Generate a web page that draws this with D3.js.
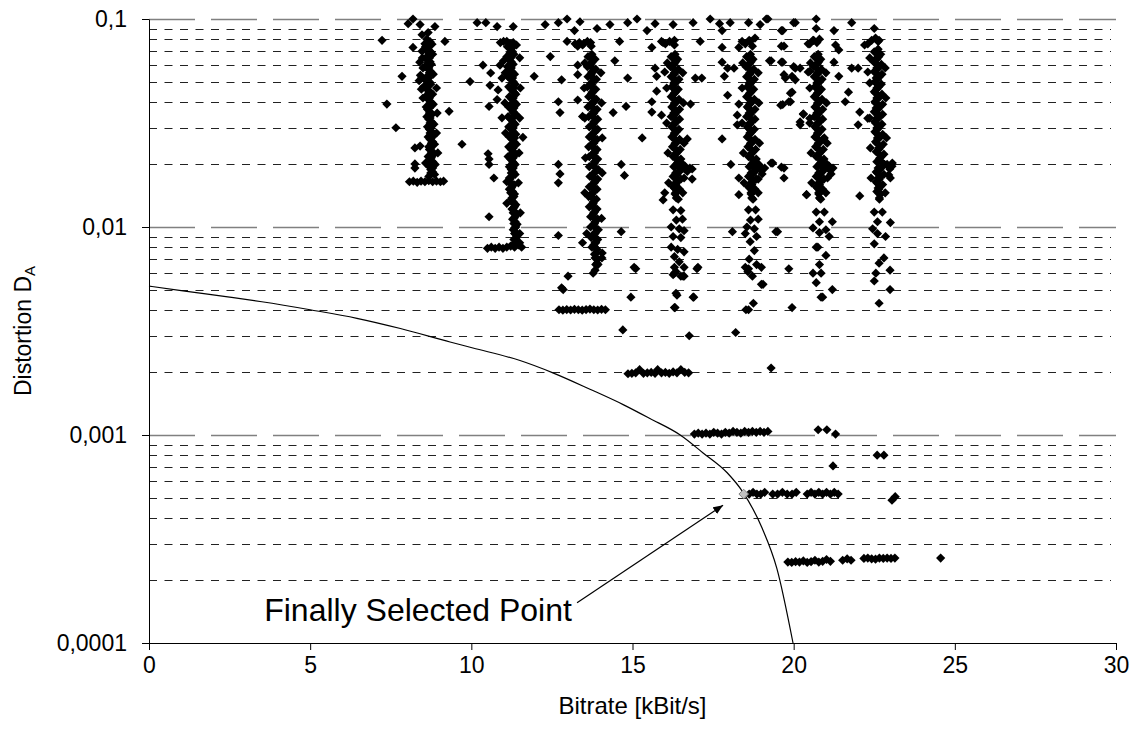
<!DOCTYPE html>
<html>
<head>
<meta charset="utf-8">
<script src="https://cdn.jsdelivr.net/npm/d3@7"></script>
<style>
  body { margin: 0; background: #fff; }
  text { font-family: "Liberation Sans", Arial, sans-serif; fill: #000; }
</style>
</head>
<body>
<div id="chart"></div>
<script>
const width = 1138, height = 740;

// axis ticks / grid
const xTicks = [0, 5, 10, 15, 20, 25, 30];
const yMajor = [0.1, 0.01, 0.001, 0.0001];
const yLabels = ["0,1", "0,01", "0,001", "0,0001"];
const yMinor = [0.09, 0.08, 0.07, 0.06, 0.05, 0.04, 0.03, 0.02,
  0.009, 0.008, 0.007, 0.006, 0.005, 0.004, 0.003, 0.002,
  0.0009, 0.0008, 0.0007, 0.0006, 0.0005, 0.0004, 0.0003, 0.0002];

// lower convex hull (bitrate, distortion)
const hullCurve = [[0, 0.0052], [1, 0.00494], [2.5, 0.0046], [3.5, 0.00437], [5, 0.0040], [6.45, 0.00364],
  [7.8, 0.00325], [9.34, 0.0028], [10.05, 0.00262], [11.51, 0.00228], [12.53, 0.00199], [13.68, 0.00166],
  [14.71, 0.0014], [15.54, 0.0012], [16.48, 0.001], [17.19, 0.00082], [17.93, 0.00066], [18.43, 0.00053],
  [19.02, 0.000357], [19.48, 0.000228], [19.98, 0.0001]];

const selectedPoint = [18.45, 0.00052];

// dense columns of operating points
const pts8k = [[8.62,0.080],[8.78,0.0757],[8.66,0.0716],[8.80,0.0677],[8.60,0.0641],[8.76,0.0606],[8.66,0.0574],[8.82,0.0543],
  [8.56,0.0513],[8.74,0.0486],[8.62,0.0459],[8.80,0.0435],[8.66,0.0411],[8.82,0.0389],[8.64,0.0368],[8.78,0.0348],[8.68,0.0330],
  [8.84,0.0312],[8.70,0.0295],[8.86,0.0279],[8.72,0.0264],[8.86,0.0250],[8.70,0.0236],[8.84,0.0224],[8.72,0.0212],[8.88,0.0200],
  [8.74,0.0189],[8.86,0.0179],
  [8.72,0.0778],[8.58,0.0736],[8.74,0.0696],[8.62,0.0659],[8.72,0.0623],[8.56,0.0590],[8.74,0.0558],[8.62,0.0528],[8.70,0.0499],
  [8.52,0.0472],[8.72,0.0447],[8.58,0.0423],[8.74,0.0400],[8.60,0.0378],[8.72,0.0358],[8.62,0.0339],[8.76,0.0321],[8.64,0.0303],
  [8.78,0.0287],[8.66,0.0271],[8.80,0.0257],[8.68,0.0243],[8.80,0.0230],[8.66,0.0218],[8.80,0.0206],[8.70,0.0195],[8.80,0.0184],
  [8.68,0.0175],
  [8.70,0.0767],[8.64,0.0726],[8.68,0.0687],[8.70,0.0650],[8.66,0.0615],[8.68,0.0582],[8.70,0.0551],[8.68,0.0521],[8.64,0.0493],
  [8.62,0.0466],[8.68,0.0441],[8.70,0.0417],[8.72,0.0395],[8.70,0.0373],[8.70,0.0353],[8.72,0.0334],[8.72,0.0316],[8.74,0.0299],
  [8.72,0.0283],[8.76,0.0268],[8.76,0.0253],[8.74,0.0240],[8.76,0.0227],[8.76,0.0215],[8.76,0.0203],[8.80,0.0192],[8.74,0.0182],
  [8.48,0.0650],[8.50,0.0582],[8.46,0.0521],[8.92,0.0466],[8.50,0.0417],[8.94,0.0353],[8.92,0.0283],[8.96,0.0227],[8.58,0.0203]];

const pts11k = [[11.22,0.0716],[11.32,0.0677],[11.18,0.0641],[11.30,0.0606],[11.20,0.0574],[11.34,0.0543],[11.22,0.0513],
  [11.36,0.0486],[11.24,0.0459],[11.38,0.0435],[11.26,0.0411],[11.40,0.0389],[11.24,0.0368],[11.38,0.0348],[11.22,0.0330],
  [11.36,0.0312],[11.24,0.0295],[11.38,0.0279],[11.26,0.0264],[11.40,0.0250],[11.24,0.0236],[11.38,0.0224],[11.22,0.0212],
  [11.36,0.0200],[11.24,0.0189],[11.36,0.0179],[11.20,0.0170],[11.32,0.0160],[11.18,0.0152],[11.34,0.0144],[11.24,0.0136],
  [11.38,0.0128],[11.26,0.0122],[11.40,0.0115],[11.28,0.0109],[11.42,0.0103],[11.30,0.0097],[11.44,0.0092],[11.32,0.0087],
  [11.12,0.0736],[11.28,0.0696],[11.10,0.0659],[11.24,0.0623],[11.12,0.0590],[11.26,0.0558],[11.14,0.0528],[11.30,0.0499],
  [11.16,0.0472],[11.30,0.0447],[11.18,0.0423],[11.32,0.0400],[11.16,0.0378],[11.30,0.0358],[11.14,0.0339],[11.28,0.0321],
  [11.16,0.0303],[11.30,0.0287],[11.18,0.0271],[11.32,0.0257],[11.16,0.0243],[11.30,0.0230],[11.14,0.0218],[11.28,0.0206],
  [11.18,0.0195],[11.30,0.0184],[11.26,0.0175],[11.10,0.0165],[11.26,0.0156],[11.28,0.0148],[11.32,0.0140],[11.30,0.0132],
  [11.34,0.0125],[11.36,0.0118],[11.36,0.0112],[11.36,0.0106],[11.38,0.0100],[11.38,0.0094],[11.40,0.0089],
  [10.90,0.077],[11.00,0.078],[11.10,0.078],[11.20,0.076],[11.30,0.077],[11.40,0.075],
  [11.26,0.0726],[11.20,0.0687],[11.22,0.0650],[11.24,0.0615],[11.24,0.0582],[11.26,0.0551],[11.28,0.0521],[11.30,0.0493],
  [11.32,0.0466],[11.34,0.0441],[11.30,0.0417],[11.28,0.0395],[11.32,0.0373],[11.30,0.0353],[11.28,0.0334],[11.30,0.0316],
  [11.30,0.0299],[11.30,0.0283],[11.34,0.0268],[11.28,0.0253],[11.30,0.0240],[11.28,0.0227],[11.30,0.0215],[11.30,0.0203],
  [11.30,0.0192],[11.24,0.0182],[11.18,0.0172],[11.20,0.0163],[11.24,0.0154],[11.22,0.0146],[11.26,0.0138],[11.30,0.0130],
  [11.30,0.0123],[11.30,0.0117],[11.32,0.0110],[11.32,0.0104],[11.34,0.0099],[11.34,0.0093],[11.36,0.0088],[11.36,0.0084],
  [11.50,0.0651],[11.05,0.0551],[11.52,0.0466],[11.04,0.0395],[11.50,0.0334],[11.06,0.0283],[11.48,0.0227],[11.46,0.0163],
  [11.10,0.0130],[11.52,0.0117],[11.50,0.0093]];

const pts14k = [[13.74,0.0677],[13.84,0.0641],[13.70,0.0606],[13.86,0.0574],[13.72,0.0543],[13.88,0.0513],[13.74,0.0486],
  [13.86,0.0459],[13.72,0.0435],[13.88,0.0411],[13.74,0.0389],[13.90,0.0368],[13.76,0.0348],[13.92,0.0330],[13.78,0.0312],
  [13.92,0.0295],[13.76,0.0279],[13.90,0.0264],[13.74,0.0250],[13.90,0.0236],[13.76,0.0224],[13.92,0.0212],[13.78,0.0200],
  [13.94,0.0189],[13.78,0.0179],[13.92,0.0170],[13.76,0.0160],[13.90,0.0152],[13.74,0.0144],[13.88,0.0136],[13.76,0.0128],
  [13.90,0.0122],[13.78,0.0115],[13.92,0.0109],[13.80,0.0103],[13.94,0.0097],[13.80,0.0092],[13.92,0.0087],[13.80,0.0082],
  [13.90,0.0078],[13.82,0.0074],[13.92,0.0070],[13.86,0.0066],[13.84,0.0062],
  [13.62,0.0659],[13.76,0.0623],[13.60,0.0590],[13.74,0.0558],[13.62,0.0528],[13.76,0.0499],[13.60,0.0472],[13.76,0.0447],
  [13.64,0.0423],[13.78,0.0400],[13.62,0.0378],[13.78,0.0358],[13.64,0.0339],[13.80,0.0321],[13.66,0.0303],[13.82,0.0287],
  [13.66,0.0271],[13.80,0.0257],[13.64,0.0243],[13.82,0.0230],[13.66,0.0218],[13.82,0.0206],[13.66,0.0195],[13.84,0.0184],
  [13.68,0.0175],[13.82,0.0165],[13.66,0.0156],[13.80,0.0148],[13.64,0.0140],[13.78,0.0132],[13.66,0.0125],[13.82,0.0118],
  [13.70,0.0112],[13.84,0.0106],[13.70,0.0100],[13.84,0.0094],[13.72,0.0089],[13.86,0.0084],[13.74,0.0080],
  [13.22,0.076],[13.35,0.077],[13.48,0.076],[13.60,0.078],[13.72,0.074],
  [13.70,0.0650],[13.72,0.0615],[13.76,0.0582],[13.74,0.0551],[13.78,0.0521],[13.72,0.0493],[13.76,0.0466],[13.74,0.0441],
  [13.80,0.0417],[13.76,0.0395],[13.78,0.0373],[13.80,0.0353],[13.82,0.0334],[13.80,0.0316],[13.82,0.0299],[13.80,0.0283],
  [13.78,0.0268],[13.80,0.0253],[13.80,0.0240],[13.82,0.0227],[13.84,0.0215],[13.82,0.0203],[13.86,0.0192],[13.80,0.0182],
  [13.78,0.0172],[13.82,0.0163],[13.78,0.0154],[13.76,0.0146],[13.76,0.0138],[13.78,0.0130],[13.82,0.0123],[13.80,0.0117],
  [13.84,0.0110],[13.82,0.0104],[13.86,0.0099],[13.84,0.0093],[13.86,0.0088],[13.84,0.0084],[13.86,0.0079],[13.88,0.0075],
  [13.84,0.0071],[13.90,0.0067],
  [13.52,0.0615],[14.02,0.0551],[13.50,0.0466],[14.04,0.0395],[13.52,0.0334],[14.06,0.0268],[13.54,0.0215],[14.06,0.0182],
  [13.52,0.0146],[14.04,0.0110],[13.58,0.0093],[14.06,0.0075]];

const pts16k = [[16.32,0.0677],[16.40,0.0641],[16.28,0.0606],[16.42,0.0574],[16.30,0.0543],[16.44,0.0513],[16.30,0.0486],
  [16.42,0.0459],[16.28,0.0435],[16.44,0.0411],[16.30,0.0389],[16.46,0.0368],[16.32,0.0348],[16.46,0.0330],[16.30,0.0312],
  [16.44,0.0295],[16.30,0.0279],[16.46,0.0264],[16.32,0.0250],[16.48,0.0236],[16.34,0.0224],[16.50,0.0212],[16.36,0.0200],
  [16.52,0.0189],[16.38,0.0179],[16.50,0.0170],[16.34,0.0160],[16.46,0.0152],[16.32,0.0144],[16.42,0.0136],
  [16.20,0.0659],[16.34,0.0623],[16.18,0.0590],[16.34,0.0558],[16.20,0.0528],[16.36,0.0499],[16.22,0.0472],[16.34,0.0447],
  [16.20,0.0423],[16.36,0.0400],[16.22,0.0378],[16.36,0.0358],[16.20,0.0339],[16.36,0.0321],[16.22,0.0303],[16.36,0.0287],
  [16.22,0.0271],[16.38,0.0257],[16.24,0.0243],[16.40,0.0230],[16.26,0.0218],[16.42,0.0206],[16.28,0.0195],[16.56,0.0200],
  [16.62,0.0190],[16.44,0.0184],[16.26,0.0175],[16.40,0.0165],[16.26,0.0156],[16.38,0.0148],
  [16.62,0.0197],[16.70,0.0185],[16.60,0.0172],
  [16.26,0.0121],[16.50,0.0120],[16.36,0.0108],[16.55,0.0109],[16.20,0.0100],[16.45,0.0098],[16.60,0.0096],[16.26,0.0090],
  [16.50,0.0089],[16.20,0.0080],[16.40,0.0078],[16.60,0.0076],[16.30,0.0072],[16.45,0.0068],[16.60,0.0064],[16.35,0.0061],
  [16.50,0.0058],[16.30,0.0064],
  [15.90,0.078],[16.02,0.076],[16.15,0.078],[16.30,0.075],
  [16.26,0.0650],[16.30,0.0615],[16.26,0.0582],[16.30,0.0551],[16.26,0.0521],[16.28,0.0493],[16.28,0.0466],[16.30,0.0441],
  [16.26,0.0417],[16.30,0.0395],[16.26,0.0373],[16.28,0.0353],[16.30,0.0334],[16.30,0.0316],[16.26,0.0299],[16.30,0.0283],
  [16.28,0.0268],[16.32,0.0253],[16.30,0.0240],[16.36,0.0227],[16.34,0.0215],[16.40,0.0203],[16.46,0.0192],[16.34,0.0182],
  [16.32,0.0172],[16.34,0.0163],[16.30,0.0154],[16.34,0.0146],[16.36,0.0138],
  [16.08,0.0615],[16.56,0.0551],[16.06,0.0466],[16.58,0.0395],[16.06,0.0316],[16.60,0.0253],[16.10,0.0227],[16.78,0.0192],
  [16.12,0.0163],[16.56,0.0146]];

const pts19k = [[18.66,0.0677],[18.74,0.0641],[18.62,0.0606],[18.76,0.0574],[18.64,0.0543],[18.78,0.0513],[18.64,0.0486],
  [18.76,0.0459],[18.62,0.0435],[18.78,0.0411],[18.64,0.0389],[18.80,0.0368],[18.66,0.0348],[18.80,0.0330],[18.64,0.0312],
  [18.78,0.0295],[18.64,0.0279],[18.80,0.0264],[18.66,0.0250],[18.82,0.0236],[18.68,0.0224],[18.84,0.0212],[18.70,0.0200],
  [18.86,0.0189],[18.72,0.0179],[18.84,0.0170],[18.70,0.0160],[18.80,0.0152],[18.68,0.0144],[18.74,0.0136],
  [18.54,0.0659],[18.68,0.0623],[18.52,0.0590],[18.68,0.0558],[18.54,0.0528],[18.70,0.0499],[18.56,0.0472],[18.68,0.0447],
  [18.54,0.0423],[18.70,0.0400],[18.56,0.0378],[18.70,0.0358],[18.54,0.0339],[18.70,0.0321],[18.56,0.0303],[18.70,0.0287],
  [18.56,0.0271],[18.72,0.0257],[18.58,0.0243],[18.74,0.0230],[18.60,0.0218],[18.76,0.0206],[18.62,0.0195],[18.92,0.0200],
  [18.98,0.0188],[18.78,0.0184],[18.60,0.0175],[18.74,0.0165],[18.60,0.0156],[18.72,0.0148],
  [18.95,0.0195],[19.02,0.0180],[18.90,0.0170],
  [18.60,0.0121],[18.82,0.0121],[18.66,0.0108],[18.90,0.0109],[18.55,0.0100],[18.78,0.0098],[18.50,0.0093],[18.85,0.0090],
  [18.65,0.0085],[18.78,0.0077],[18.62,0.0070],[18.85,0.0066],[18.58,0.0061],[18.72,0.0058],
  [18.40,0.078],[18.50,0.076],[18.62,0.079],[18.72,0.074],
  [18.60,0.0650],[18.64,0.0615],[18.60,0.0582],[18.64,0.0551],[18.60,0.0521],[18.62,0.0493],[18.62,0.0466],[18.64,0.0441],
  [18.60,0.0417],[18.64,0.0395],[18.60,0.0373],[18.62,0.0353],[18.64,0.0334],[18.64,0.0316],[18.60,0.0299],[18.64,0.0283],
  [18.62,0.0268],[18.66,0.0253],[18.64,0.0240],[18.70,0.0227],[18.68,0.0215],[18.74,0.0203],[18.80,0.0192],[18.68,0.0182],
  [18.66,0.0172],[18.68,0.0163],[18.64,0.0154],[18.68,0.0146],[18.70,0.0138],
  [18.42,0.0615],[18.90,0.0551],[18.40,0.0466],[18.92,0.0395],[18.40,0.0316],[18.94,0.0253],[18.44,0.0227],[19.10,0.0192],
  [18.46,0.0163],[18.90,0.0146]];

const pts21k = [[20.76,0.0677],[20.84,0.0641],[20.72,0.0606],[20.86,0.0574],[20.74,0.0543],[20.88,0.0513],[20.74,0.0486],
  [20.86,0.0459],[20.72,0.0435],[20.88,0.0411],[20.74,0.0389],[20.90,0.0368],[20.76,0.0348],[20.90,0.0330],[20.74,0.0312],
  [20.88,0.0295],[20.74,0.0279],[20.90,0.0264],[20.76,0.0250],[20.92,0.0236],[20.78,0.0224],[20.94,0.0212],[20.80,0.0200],
  [20.96,0.0189],[20.82,0.0179],[20.94,0.0170],[20.80,0.0160],[20.90,0.0152],[20.78,0.0144],[20.84,0.0136],
  [20.64,0.0659],[20.78,0.0623],[20.62,0.0590],[20.78,0.0558],[20.64,0.0528],[20.80,0.0499],[20.66,0.0472],[20.78,0.0447],
  [20.64,0.0423],[20.80,0.0400],[20.66,0.0378],[20.80,0.0358],[20.64,0.0339],[20.80,0.0321],[20.66,0.0303],[20.80,0.0287],
  [20.66,0.0271],[20.82,0.0257],[20.68,0.0243],[20.84,0.0230],[20.70,0.0218],[20.86,0.0206],[20.72,0.0195],[21.04,0.0200],
  [21.12,0.0188],[20.88,0.0184],[20.70,0.0175],[20.84,0.0165],[20.70,0.0156],[20.82,0.0148],
  [21.10,0.0196],[21.16,0.0180],[21.05,0.0172],
  [20.70,0.0118],[20.95,0.0118],[20.80,0.0106],[21.20,0.0106],[20.60,0.0099],[20.80,0.0094],[21.00,0.0097],[21.10,0.0090],
  [20.70,0.0080],[21.00,0.0073],[20.80,0.0066],[20.60,0.0060],[20.85,0.0060],[20.70,0.0054],
  [20.50,0.076],[20.62,0.079],[20.72,0.077],
  [20.70,0.0650],[20.74,0.0615],[20.70,0.0582],[20.74,0.0551],[20.70,0.0521],[20.72,0.0493],[20.72,0.0466],[20.74,0.0441],
  [20.70,0.0417],[20.74,0.0395],[20.70,0.0373],[20.72,0.0353],[20.74,0.0334],[20.74,0.0316],[20.70,0.0299],[20.74,0.0283],
  [20.72,0.0268],[20.76,0.0253],[20.74,0.0240],[20.80,0.0227],[20.78,0.0215],[20.84,0.0203],[20.92,0.0192],[20.78,0.0182],
  [20.76,0.0172],[20.78,0.0163],[20.74,0.0154],[20.78,0.0146],[20.80,0.0138],
  [20.52,0.0615],[21.00,0.0551],[20.50,0.0466],[21.02,0.0395],[20.50,0.0316],[21.04,0.0253],[20.54,0.0227],[21.22,0.0192],
  [20.56,0.0163],[21.00,0.0146]];

const pts23k = [[22.62,0.0716],[22.70,0.0677],[22.58,0.0641],[22.72,0.0606],[22.60,0.0574],[22.74,0.0543],[22.60,0.0513],
  [22.72,0.0486],[22.58,0.0459],[22.74,0.0435],[22.60,0.0411],[22.76,0.0389],[22.62,0.0368],[22.76,0.0348],[22.60,0.0330],
  [22.74,0.0312],[22.60,0.0295],[22.76,0.0279],[22.62,0.0264],[22.78,0.0250],[22.64,0.0236],[22.80,0.0224],[22.66,0.0212],
  [22.82,0.0200],[22.68,0.0189],[22.80,0.0179],[22.66,0.0170],[22.76,0.0160],[22.64,0.0152],[22.70,0.0144],[22.66,0.0136],
  [22.50,0.0696],[22.64,0.0659],[22.48,0.0623],[22.64,0.0590],[22.50,0.0558],[22.66,0.0528],[22.52,0.0499],[22.64,0.0472],
  [22.50,0.0447],[22.66,0.0423],[22.52,0.0400],[22.66,0.0378],[22.50,0.0358],[22.66,0.0339],[22.52,0.0321],[22.66,0.0303],
  [22.52,0.0287],[22.68,0.0271],[22.54,0.0257],[22.70,0.0243],[22.56,0.0230],[22.72,0.0218],[22.58,0.0206],[22.90,0.0200],
  [22.98,0.0190],[22.74,0.0195],[22.56,0.0184],[22.70,0.0175],[22.56,0.0165],[22.68,0.0156],[22.58,0.0148],
  [23.05,0.0196],[22.95,0.0178],[23.00,0.0172],
  [22.50,0.0118],[22.75,0.0118],[22.60,0.0106],[23.00,0.0105],[22.45,0.0098],[22.60,0.0093],[22.85,0.0090],[22.50,0.0083],
  [22.80,0.0071],[22.65,0.0067],[22.99,0.0062],[22.55,0.0060],[22.50,0.0055],
  [22.30,0.076],[22.42,0.079],[22.54,0.081],[22.62,0.078],
  [22.56,0.0687],[22.58,0.0650],[22.54,0.0615],[22.58,0.0582],[22.54,0.0551],[22.56,0.0521],[22.56,0.0493],[22.58,0.0466],
  [22.54,0.0441],[22.58,0.0417],[22.54,0.0395],[22.56,0.0373],[22.58,0.0353],[22.58,0.0334],[22.54,0.0316],[22.58,0.0299],
  [22.56,0.0283],[22.60,0.0268],[22.58,0.0253],[22.64,0.0240],[22.62,0.0227],[22.68,0.0215],[22.76,0.0203],[22.62,0.0192],
  [22.60,0.0182],[22.62,0.0172],[22.58,0.0163],[22.62,0.0154],[22.64,0.0146],[22.66,0.0138],
  [22.36,0.0650],[22.84,0.0582],[22.36,0.0493],[22.86,0.0417],[22.36,0.0334],[22.88,0.0268],[22.38,0.0240],[23.06,0.0203],
  [22.40,0.0172],[22.84,0.0146]];

// flat runs of points at the low-distortion end of each column
const plateaus = [
  [8.08,0.0165],[8.20,0.0166],[8.32,0.0164],[8.44,0.0166],[8.56,0.0165],[8.68,0.0167],[8.80,0.0165],[8.92,0.0166],[9.04,0.0165],[9.14,0.0166],
  [10.50,0.0079],[10.62,0.0080],[10.74,0.0079],[10.86,0.0080],[10.98,0.0079],[11.10,0.0080],[11.22,0.0081],[11.34,0.0080],[11.46,0.0082],[11.56,0.0080],[11.50,0.0084],
  [12.72,0.00400],[12.84,0.00398],[12.96,0.00401],[13.08,0.00399],[13.20,0.00402],[13.32,0.00400],[13.44,0.00398],[13.56,0.00401],[13.68,0.00403],[13.80,0.00400],[13.92,0.00399],[14.04,0.00402],[14.16,0.00400],
  [14.86,0.00197],[14.98,0.00198],[15.10,0.00199],[15.22,0.00206],[15.34,0.00198],[15.46,0.00199],[15.58,0.00200],[15.70,0.00198],[15.78,0.00206],[15.90,0.00199],[16.02,0.00200],[16.14,0.00198],[16.26,0.00201],[16.38,0.00199],[16.50,0.00206],[16.62,0.00200],[16.74,0.00199],
  [16.92,0.00101],[17.04,0.00102],[17.16,0.00101],[17.28,0.00102],[17.40,0.00101],[17.52,0.00103],[17.64,0.00102],[17.76,0.00101],[17.88,0.00103],[18.00,0.00102],[18.12,0.00104],[18.24,0.00103],[18.36,0.00102],[18.48,0.00104],[18.60,0.00103],[18.72,0.00104],[18.84,0.00103],[18.96,0.00104],[19.08,0.00103],[19.20,0.00104],
  [18.62,0.00052],[18.74,0.00053],[18.86,0.00052],[18.98,0.00052],[19.10,0.00053],[19.35,0.00052],[19.50,0.00052],[19.65,0.00053],[19.80,0.00052],[19.95,0.00052],[20.08,0.00053],
  [20.42,0.00052],[20.54,0.00053],[20.66,0.00052],[20.78,0.00053],[20.90,0.00052],[21.02,0.00053],[21.14,0.00052],[21.26,0.00053],[21.38,0.00052],
  [19.82,0.000245],[19.94,0.000244],[20.06,0.000246],[20.18,0.000245],[20.30,0.000248],[20.42,0.000244],[20.54,0.000246],[20.66,0.000250],[20.78,0.000245],[20.90,0.000247],[21.02,0.000252],[21.14,0.000247],
  [21.52,0.000250],[21.66,0.000254],[21.78,0.000250],
  [22.18,0.000255],[22.30,0.000256],[22.42,0.000254],[22.54,0.000253],[22.66,0.000256],[22.78,0.000255],[22.90,0.000256],[23.02,0.000255],[23.14,0.000256],
  [24.56,0.000256]];

// scattered points around the columns
const outliers = [[8.19,0.1],[8.04,0.095],[8.41,0.094],[8.87,0.092],[8.47,0.084],[8.66,0.086],[7.23,0.079],[9.18,0.078],
  [8.19,0.073],[8.56,0.076],[7.85,0.053],[7.38,0.039],[9.31,0.036],[7.66,0.030],[8.25,0.024],[8.41,0.0245],[8.25,0.0201],
  [8.25,0.0192],[8.42,0.0536],[8.38,0.0505],[8.45,0.046],[8.40,0.062],[8.47,0.070],
  [10.18,0.096],[10.45,0.096],[10.80,0.092],[11.30,0.092],[10.36,0.060],[10.60,0.055],[10.89,0.060],[9.96,0.050],[10.58,0.048],
  [10.83,0.0456],[10.80,0.041],[10.55,0.038],[10.95,0.0335],[11.60,0.027],[9.71,0.025],[10.52,0.0225],[10.55,0.0212],
  [10.55,0.0200],[10.70,0.0172],[10.55,0.0112],[11.00,0.063],[10.95,0.052],
  [12.29,0.094],[12.70,0.096],[12.97,0.1],[13.20,0.088],[13.37,0.097],[12.97,0.078],[13.30,0.074],[13.45,0.075],[13.70,0.077],
  [13.90,0.090],[14.30,0.094],[14.60,0.078],[14.85,0.096],[15.14,0.1],[15.45,0.088],[15.70,0.095],[15.60,0.073],[15.95,0.077],
  [16.26,0.094],[16.30,0.079],[16.88,0.096],[17.10,0.078],[17.41,0.1],[17.70,0.095],[17.78,0.088],[18.03,0.096],[17.78,0.073],
  [18.30,0.073],[18.60,0.096],[18.96,0.094],[19.20,0.1],[18.65,0.078],[18.80,0.081],[19.62,0.088],[19.62,0.074],[20.05,0.096],
  [20.70,0.1],[20.70,0.090],[20.45,0.076],[20.80,0.080],
  [12.45,0.066],[11.95,0.053],[12.80,0.051],[13.30,0.060],[13.30,0.054],[14.45,0.063],[14.85,0.052],[12.70,0.040],[12.75,0.0355],
  [13.30,0.0408],[13.45,0.034],[14.40,0.0355],[14.80,0.038],[15.30,0.0268],[15.60,0.0357],[15.60,0.040],[15.75,0.045],[15.70,0.058],
  [15.75,0.053],[16.00,0.0556],[15.90,0.0345],[16.80,0.039],[16.95,0.052],[17.15,0.052],[16.70,0.0265],[17.78,0.062],[17.95,0.058],
  [18.15,0.058],[17.85,0.053],[17.95,0.043],[18.30,0.039],[18.25,0.0345],[18.25,0.031],[17.78,0.0265],[19.25,0.063],[19.62,0.062],
  [19.70,0.054],[20.05,0.058],[19.95,0.053],[19.90,0.044],[19.60,0.0385],[19.85,0.040],[20.30,0.035],[20.20,0.032],[20.50,0.056],
  [20.95,0.0268],
  [12.70,0.020],[12.75,0.018],[12.70,0.0163],[14.65,0.020],[14.75,0.0177],[16.00,0.0146],[15.95,0.0135],[16.85,0.019],[16.85,0.017],
  [18.05,0.020],[18.30,0.0172],[18.30,0.0143],[19.30,0.0203],[19.62,0.0194],[19.70,0.0172],[20.40,0.0143],[12.70,0.0091],
  [13.45,0.0084],[14.65,0.0095],[13.00,0.0058],[12.80,0.0051],[15.10,0.0063],[14.95,0.0046],[17.00,0.0063],[16.90,0.0046],
  [16.35,0.0048],[16.30,0.0041],[16.60,0.0058],[16.30,0.0060],[18.10,0.0095],[19.45,0.0095],[18.60,0.0063],[19.00,0.0064],
  [19.05,0.0053],[18.75,0.0043],[18.60,0.0040],[19.85,0.0063],[19.95,0.0041],[20.75,0.0080],[20.90,0.0046],
  [19.15,0.1],[20.00,0.096],[21.25,0.088],[21.80,0.096],[22.50,0.090],[19.66,0.088],[19.70,0.074],[20.60,0.079],[21.30,0.075],
  [21.40,0.071],[22.20,0.075],[22.65,0.079],[19.30,0.063],[19.66,0.062],[20.00,0.059],[20.20,0.058],[19.74,0.052],[20.05,0.051],
  [20.45,0.0556],[21.25,0.062],[21.40,0.053],[21.80,0.058],[22.00,0.058],[22.30,0.0556],[19.95,0.0445],[19.90,0.040],[19.66,0.0388],
  [20.30,0.0348],[20.50,0.0333],[20.20,0.031],[21.70,0.0445],[21.60,0.040],[22.05,0.0357],[22.30,0.0333],[22.00,0.031],
  [19.35,0.0203],[19.70,0.0192],[20.40,0.0143],[22.05,0.0141],[19.50,0.0095],[19.00,0.0053],[21.20,0.0050],[22.99,0.0050],
  [22.65,0.0043],[20.85,0.0046],
  [12.85,0.0050],[13.78,0.0060],[13.93,0.0066],[14.05,0.0071],[15.05,0.0064],[14.70,0.0032],[16.32,0.0041],[16.38,0.0047],
  [16.26,0.0059],[16.57,0.0058],[16.88,0.0046],[17.03,0.0064],[16.76,0.0030],[18.20,0.00311],[18.50,0.0064],[18.52,0.0040],
  [19.30,0.0021],
  [20.76,0.00106],[21.03,0.00106],[21.30,0.00101],[22.59,0.00080],[22.80,0.00080],[21.22,0.00071],[23.05,0.000486],[23.15,0.000505]];

const x = d3.scaleLinear().domain([0, 30]).range([149, 1116]);
const y = d3.scaleLog().domain([0.0001, 0.1]).range([643, 19]);

const svg = d3.select("#chart")
  .append("svg")
  .attr("width", width)
  .attr("height", height);

const crisp = v => Math.round(v) + 0.5;

// minor grid lines (short dashes)
svg.append("g")
  .selectAll("line")
  .data(yMinor)
  .join("line")
  .attr("x1", x(0)).attr("x2", x(30) - 5)
  .attr("y1", d => crisp(y(d))).attr("y2", d => crisp(y(d)))
  .attr("stroke", "#222")
  .attr("stroke-width", 1)
  .attr("stroke-dasharray", "8,7.5");

// major grid lines (long grey dashes)
svg.append("g")
  .selectAll("line")
  .data(yMajor.slice(0, 3))
  .join("line")
  .attr("x1", x(0)).attr("x2", x(30))
  .attr("y1", d => crisp(y(d))).attr("y2", d => crisp(y(d)))
  .attr("stroke", "#808080")
  .attr("stroke-width", 1.3)
  .attr("stroke-dasharray", "46,16");

// hull curve
const line = d3.line().x(d => x(d[0])).y(d => y(d[1])).curve(d3.curveMonotoneX);
svg.append("path")
  .datum(hullCurve)
  .attr("d", line)
  .attr("fill", "none")
  .attr("stroke", "#000")
  .attr("stroke-width", 1.2);

// points
const diamond = r => `M0,${-r}L${r},0L0,${r}L${-r},0Z`;
const allPoints = [].concat(pts8k, pts11k, pts14k, pts16k, pts19k, pts21k, pts23k, plateaus, outliers);

svg.append("g")
  .selectAll("path")
  .data(allPoints)
  .join("path")
  .attr("d", diamond(4.6))
  .attr("transform", d => `translate(${x(d[0])},${y(d[1])})`)
  .attr("fill", "#000");

svg.append("path")
  .attr("d", diamond(4.8))
  .attr("transform", `translate(${x(selectedPoint[0])},${y(selectedPoint[1])})`)
  .attr("fill", "#c0c0c0")
  .attr("stroke", "#808080")
  .attr("stroke-width", 1);

// axes
const yAxis = svg.append("g")
  .attr("transform", `translate(${x(0)},0)`)
  .call(d3.axisLeft(y).tickValues(yMajor).tickFormat((d, i) => yLabels[i])
    .tickSize(7).tickSizeOuter(0).tickPadding(15));

const xAxis = svg.append("g")
  .attr("transform", `translate(0,${y(0.0001)})`)
  .call(d3.axisBottom(x).tickValues(xTicks).tickSize(7).tickSizeOuter(0));

[yAxis, xAxis].forEach(g => {
  g.select(".domain").attr("stroke", "#000");
  g.selectAll(".tick line").attr("stroke", "#000");
  g.selectAll("text")
    .style("font-family", '"Liberation Sans", Arial, sans-serif')
    .style("font-size", "23px")
    .attr("fill", "#000");
});
xAxis.selectAll("text").attr("dy", null).attr("y", 30);

// axis titles
svg.append("text")
  .attr("x", (x(0) + x(30)) / 2)
  .attr("y", 714)
  .attr("text-anchor", "middle")
  .style("font-size", "24px")
  .text("Bitrate [kBit/s]");

const yTitle = svg.append("text")
  .attr("transform", `translate(31,${(y(0.1) + y(0.0001)) / 2}) rotate(-90)`)
  .attr("text-anchor", "middle")
  .style("font-size", "23px");
yTitle.append("tspan").text("Distortion D");
yTitle.append("tspan").attr("dy", 4).style("font-size", "15px").text("A");

// annotation with arrow
svg.append("defs").append("marker")
  .attr("id", "arrow")
  .attr("viewBox", "0 0 10 8")
  .attr("refX", 10).attr("refY", 4)
  .attr("markerWidth", 10).attr("markerHeight", 8)
  .attr("markerUnits", "userSpaceOnUse")
  .attr("orient", "auto")
  .append("path")
  .attr("d", "M0,0L10,4L0,8Z")
  .attr("fill", "#000");

svg.append("line")
  .attr("x1", x(13.28)).attr("y1", y(0.000156))
  .attr("x2", x(17.81)).attr("y2", y(0.00046))
  .attr("stroke", "#000")
  .attr("stroke-width", 1.2)
  .attr("marker-end", "url(#arrow)");

svg.append("text")
  .attr("x", x(13.12))
  .attr("y", y(0.000128))
  .attr("text-anchor", "end")
  .style("font-size", "32px")
  .text("Finally Selected Point");
</script>
</body>
</html>
